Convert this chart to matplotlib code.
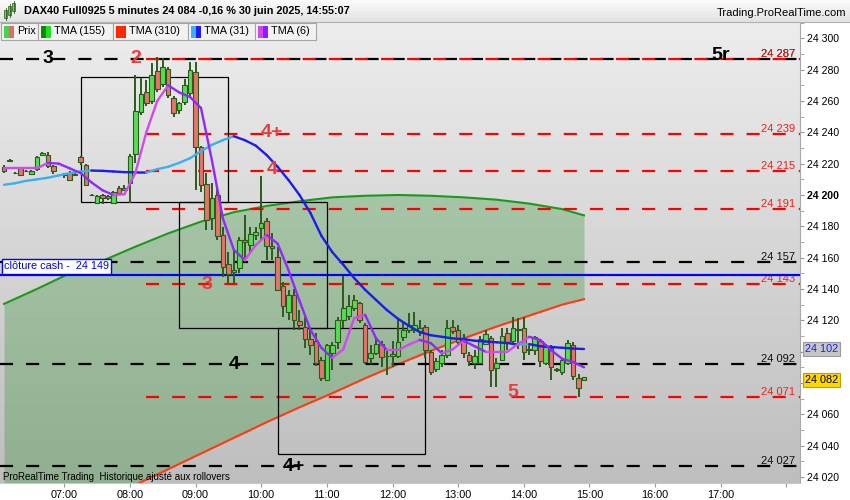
import numpy as np
import matplotlib.pyplot as plt
import matplotlib.transforms as mtransforms
from matplotlib.collections import LineCollection
from matplotlib.colors import LinearSegmentedColormap
from matplotlib.patches import Rectangle

plt.rcParams['font.family'] = ['Liberation Sans', 'DejaVu Sans']
plt.rcParams['lines.scale_dashes'] = False


def hm(s):
    h, m = s.split(":")
    return int(h) * 60 + int(m)


def fmt(v):
    return f"{v:,.0f}".replace(",", " ")


# --- 5 minute bars, 06:05 -> 14:55 ---
first_bar = "06:05"
bar_minutes = 5

opens = [24218, 24222, 24214, 24217, 24215, 24213.5, 24216.5, 24225.5, 24225.5, 24218.5,
         24212.5, 24212.5, 24214, 24213, 24224, 24219, 24200, 24195, 24200, 24199.5,
         24195, 24204.5, 24204.5, 24207.5, 24226, 24253, 24265.5, 24260, 24279, 24271,
         24280.5, 24262, 24254, 24259.5, 24265, 24278.5, 24230.5, 24207, 24185.5, 24200,
         24174.5, 24156, 24151, 24153.5, 24171.5, 24168, 24174.5, 24179, 24183.5, 24167.5,
         24160.5, 24142, 24125.5, 24136, 24119.5, 24116, 24108, 24107, 24095, 24082,
         24099, 24106, 24120, 24123, 24128, 24131, 24117, 24096, 24099, 24105,
         24097.5, 24097.5, 24097, 24109.5, 24114, 24114, 24113, 24116, 24100, 24089,
         24093, 24098, 24116, 24114, 24109, 24098, 24092.5, 24093, 24105, 24108.5,
         24089.5, 24095, 24112, 24107, 24114.5, 24115, 24101, 24101, 24107, 24093,
         24102.5, 24089, 24087, 24093, 24104.5, 24083.5, 24082]
highs = [24219, 24223, 24214.5, 24218, 24216, 24216, 24225, 24227.5, 24227.5, 24219,
         24213, 24214, 24215.5, 24214, 24225, 24220, 24200.5, 24200, 24200.5, 24200,
         24202.5, 24205.5, 24206.5, 24226, 24276.5, 24274.5, 24273.5, 24284, 24288, 24287.5,
         24282, 24263, 24259.5, 24274, 24285, 24285, 24231, 24214, 24207.5, 24205,
         24179.5, 24163.5, 24165, 24173, 24187, 24179.5, 24179.5, 24212, 24185.5, 24175.5,
         24167, 24144.5, 24139.5, 24140, 24126.5, 24122, 24114, 24112, 24096.5, 24105,
         24106, 24122, 24148, 24136, 24136, 24132, 24118, 24104.5, 24108, 24107,
         24101, 24107, 24120, 24118, 24125, 24125.5, 24120, 24117, 24101, 24096,
         24101, 24120, 24120, 24117, 24111, 24100, 24101, 24110, 24114, 24110,
         24096, 24115, 24115, 24122, 24121.5, 24122, 24105.5, 24110, 24107.5, 24105,
         24104, 24089.5, 24096, 24107.5, 24106, 24086, 24084]
lows = [24214, 24221.5, 24213.5, 24212, 24214.5, 24213, 24215, 24225, 24217, 24213.5,
        24212, 24211, 24209, 24213, 24219, 24205.5, 24199.5, 24194, 24194, 24197,
        24194, 24201, 24202.5, 24195, 24220.5, 24251, 24257, 24258, 24266, 24269,
        24262, 24250, 24251.5, 24257.5, 24263, 24203, 24202, 24177.5, 24177.5, 24171.5,
        24147.5, 24144, 24144, 24150, 24157, 24162.5, 24171.5, 24171.5, 24158.5, 24158.5,
        24139, 24122, 24120, 24114, 24114, 24102.5, 24098, 24091, 24081, 24081,
        24088, 24102, 24115, 24120, 24126, 24118, 24092, 24092, 24098, 24090,
        24085, 24090, 24096, 24107, 24112, 24112, 24110, 24096, 24085, 24087,
        24090, 24096, 24111, 24104, 24096, 24091, 24089, 24093, 24104, 24077.5,
        24077.5, 24095, 24101, 24104, 24102, 24095, 24098, 24098, 24090, 24091.5,
        24082, 24087, 24085, 24091.5, 24082, 24071, 24082]
closes = [24215, 24222.5, 24214, 24213, 24215.5, 24215, 24224, 24227, 24218.5, 24215.5,
          24212.5, 24213, 24209.5, 24213.5, 24221, 24206.5, 24200, 24199.5, 24198, 24198,
          24202, 24201.5, 24203, 24225, 24253.5, 24264.5, 24258.5, 24276.5, 24267.5, 24281.5,
          24264, 24252.5, 24258.5, 24270, 24280, 24230.5, 24206.5, 24184, 24198, 24174,
          24154, 24149.5, 24152, 24171, 24170, 24175, 24176.5, 24182, 24167.5, 24166,
          24139.5, 24129, 24136, 24120, 24117, 24108, 24104, 24093, 24083, 24104,
          24104, 24120, 24128, 24129, 24133, 24120, 24093.5, 24099, 24105, 24096.5,
          24097, 24098.5, 24106, 24114, 24117, 24117, 24115, 24101, 24087, 24094,
          24098, 24115, 24113, 24106, 24099, 24094, 24097, 24108, 24111, 24088,
          24092.5, 24110, 24106, 24115, 24114, 24100, 24101.5, 24109.5, 24094, 24103,
          24090, 24088, 24094.5, 24105.5, 24084.5, 24077, 24084]

# --- moving averages, every 10 minutes from 06:05 ---
tma_step = 10
tma6 = [24217, 24217, 24217, 24217, 24220.5, 24220, 24217, 24214, 24208, 24203,
        24200, 24200.5, 24214, 24240, 24260, 24270, 24265.5, 24262.5, 24255.5, 24222,
        24185, 24165, 24158.5, 24168, 24174.5, 24169, 24152, 24132.5, 24114, 24102.5,
        24096, 24101.5, 24121.5, 24123.5, 24108.5, 24101, 24101, 24104.5, 24107.5, 24105.5,
        24099, 24101.5, 24107, 24103.5, 24100, 24100, 24100, 24105, 24109.5, 24107.5,
        24101, 24095.5, 24093.5, 24090]
tma31 = [24206.5, 24207.5, 24209, 24210, 24211, 24212.5, 24214, 24215, 24215.6, 24215.4,
         24215, 24214.6, 24214.4, 24214.3, 24216.5, 24218, 24220.5, 24223.5, 24228, 24232,
         24235, 24237.5, 24235, 24231.5, 24225.5, 24218, 24209.5, 24200, 24188.5, 24174,
         24163.5, 24155.5, 24147, 24139.5, 24133, 24126.5, 24121, 24116.5, 24112.5, 24110.5,
         24109.5, 24108.5, 24108, 24107, 24106.5, 24106, 24105.5, 24104.5, 24104.8, 24103.5,
         24103, 24102.5, 24102, 24101.7]

slow_times = ["06:05", "06:35", "07:05", "07:35", "08:05", "08:35", "09:05", "09:35", "10:05",
              "10:35", "11:05", "11:35", "12:05", "12:35", "13:05", "13:35", "14:05", "14:35", "14:55"]
tma155 = [24130.5, 24140, 24150, 24158, 24167, 24175.5, 24183, 24189, 24193,
          24196, 24198.5, 24199.5, 24200, 24199.5, 24198.5, 24197, 24194.5, 24191, 24187]
tma310 = [np.nan, np.nan, np.nan, 24004.5, 24015, 24025, 24035, 24045, 24055,
          24064.5, 24073.5, 24083, 24092, 24100.5, 24108.5, 24116, 24123, 24130, 24133.5]

# --- drawn levels ---
level_prices = [24287, 24287, 24239, 24215, 24191, 24157, 24143, 24092, 24071, 24027]
level_colors = ["black", "red", "red", "red", "red", "black", "red", "black", "red", "black"]
level_starts = [None, "08:15", "08:15", "08:15", "08:15", None, "08:15", None, "08:15", None]
cash_close = 24149
price_tag = 24082

box_t0 = ["07:15", "08:45", "10:15"]
box_t1 = ["09:30", "11:00", "12:30"]
box_low = [24195.5, 24115, 24035]
box_high = [24275.5, 24195.5, 24115]

wave_text = ["3", "2", "5r", "4+", "4", "3", "4", "5", "4+"]
wave_time = ["06:45", "08:05", "17:00", "10:10", "10:10", "09:10", "09:35", "13:50", "10:30"]
wave_price = [24287, 24287, 24289, 24240, 24216, 24143, 24092, 24074, 24027]
wave_color = ["black", "red", "black", "red", "red", "red", "black", "red", "black"]

legend_names = ["Prix", "TMA (155)", "TMA (310)", "TMA (31)", "TMA (6)"]
legend_swatch = [("#4fcf4f", "#e06a64"), ("#0a8a0a", "#1ee01e"), ("#ff2a00", "#ff2a00"),
                 ("#3ab0f0", "#1c1cff"), ("#cf45ef", "#8a22ff")]

xmin, xmax = 361.3, 1092.4
ymin, ymax = 24016.2, 24310.4

fig = plt.figure(figsize=(8.5, 5), dpi=100)
ax = fig.add_axes([0, 17 / 500, 800 / 850, 461 / 500])

bg = LinearSegmentedColormap.from_list("bg", ["#bebebe", "#ededed"])
ax.imshow(np.linspace(0, 1, 256).reshape(-1, 1), extent=[xmin, xmax, ymin, ymax],
          origin="lower", aspect="auto", cmap=bg, zorder=0)

# filled zone between the two long averages
st = np.array([hm(s) for s in slow_times])
g = np.array(tma155)
r = np.array(tma310)
ax.fill_between(st, np.where(np.isnan(r), ymin - 20, r), g, color="#008000", alpha=0.24, lw=0, zorder=1)
ax.plot(st, g, color="#1a9a1a", lw=1.5, zorder=2)
ax.plot(st, r, color="#ff3a10", lw=1.5, zorder=2)

# levels
lbl_tr = mtransforms.blended_transform_factory(ax.transAxes, ax.transData)
for p, c, s in zip(level_prices, level_colors, level_starts):
    x0 = xmin if s is None else hm(s)
    ax.plot([x0, xmax], [p, p], color="#ff0000" if c == "red" else "black", lw=1.6,
            linestyle=(0, (9.4, 9.4)), zorder=2)
    ax.text(795 / 800, p, fmt(p), transform=lbl_tr, ha="right", va="bottom", fontsize=8,
            color="#ff1a1a" if c == "red" else "#111111", zorder=3)

ax.axhline(cash_close, color="#0000ff", lw=1.6, zorder=3)
ax.annotate("clôture cash -  " + fmt(cash_close), xy=(0.003, cash_close), xycoords=lbl_tr,
            xytext=(1, 2.5), textcoords="offset points", ha="left", va="bottom",
            fontsize=7.8, color="#0000ee", zorder=8,
            bbox=dict(boxstyle="square,pad=0.2", fc="white", ec="#0000ff", lw=1))

for a, b, lo, hi in zip(box_t0, box_t1, box_low, box_high):
    ax.add_patch(Rectangle((hm(a), lo), hm(b) - hm(a), hi - lo, fill=False, ec="black", lw=0.9, zorder=3))

# candles
t = hm(first_bar) + bar_minutes * np.arange(len(opens))
o = np.array(opens)
c = np.array(closes)
ax.vlines(t, lows, highs, color="#2e5a1c", lw=1.4, zorder=4)
ax.bar(t, np.abs(c - o), bottom=np.minimum(o, c), width=4.2,
       color=np.where(c >= o, "#55dd55", "#e8736b"), edgecolor="#2e5a1c", linewidth=0.8, zorder=5)


def slope_line(vals, up, down):
    tt = hm(first_bar) + tma_step * np.arange(len(vals))
    pts = np.column_stack([tt, vals])
    segs = np.stack([pts[:-1], pts[1:]], axis=1)
    cols = [up if b >= a else down for a, b in zip(vals[:-1], vals[1:])]
    ax.add_collection(LineCollection(segs, colors=cols, linewidths=1.7, capstyle="round", zorder=6))


slope_line(tma31, "#3ab0f0", "#1c1cf0")
slope_line(tma6, "#d448f0", "#9426ff")

for s, tm, p, col in zip(wave_text, wave_time, wave_price, wave_color):
    ax.text(hm(tm), p, s, ha="center", va="center", fontsize=14, fontweight="bold",
            color="#ec3b3b" if col == "red" else "black", zorder=7)

# axes: ticks first, limits afterwards (set_ticks widens the view)
yt = np.arange(24020, 24301, 20)
tags = [tma31[-1], price_tag]
ax.yaxis.tick_right()
ax.set_yticks(yt, labels=["" if min(abs(v - tg) for tg in tags) < 8 else fmt(v) for v in yt])
ax.set_yticks(np.arange(24020, 24311, 10), minor=True)
for lbl in ax.get_yticklabels():
    if lbl.get_text() == "24 200":
        lbl.set_fontweight("bold")
        lbl.set_fontsize(8.8)
ax.tick_params(axis="y", which="both", direction="out", length=3, color="#999999", labelsize=7.6, pad=2)
hours = [f"{h:02d}:00" for h in range(7, 19)]
ax.set_xticks([hm(h) for h in hours], labels=hours[:-1] + [""])
ax.tick_params(axis="x", direction="out", length=3, color="#999999", labelsize=7.8, pad=2)
ax.set_xlim(xmin, xmax)
ax.set_ylim(ymin, ymax)
for side in ["left", "top"]:
    ax.spines[side].set_visible(False)
ax.spines["right"].set_color("#a8a8a8")
ax.spines["bottom"].set_color("#c8c8c8")

ax.text(1.006, tma31[-1], fmt(tma31[-1]), transform=lbl_tr, ha="left", va="center", fontsize=7.8,
        color="#1c1cff", clip_on=False, bbox=dict(boxstyle="square,pad=0.15", fc="#c6c6c6", ec="#9a9a9a", lw=0.8))
ax.text(1.006, price_tag, fmt(price_tag), transform=lbl_tr, ha="left", va="center", fontsize=7.8,
        color="black", clip_on=False, bbox=dict(boxstyle="square,pad=0.15", fc="#ffd700", ec="#c0a000", lw=0.8))

# header, legend strip and footer drawn in pixel space
ov = fig.add_axes([0, 0, 1, 1], zorder=10)
ov.patch.set_alpha(0)
ov.axis("off")
hdr = LinearSegmentedColormap.from_list("hdr", ["#fbfbfb", "#e2e2e2"])
ov.imshow(np.linspace(0, 1, 64).reshape(-1, 1), extent=[0, 850, 22, 0], origin="upper", aspect="auto", cmap=hdr)
ov.plot([0, 850], [22, 22], color="#b0b0b0", lw=0.8)
for x0, y0, y1 in [(6, 10, 18), (10, 6, 15), (14, 3, 11)]:
    ov.plot([x0, x0], [y0 - 2, y1 + 2], color="#2e5a1c", lw=0.6)
    ov.add_patch(Rectangle((x0 - 1.5, y0), 3, y1 - y0, fc="#55dd55", ec="#2e5a1c", lw=0.5))
ov.text(24, 11.5, "DAX40 Full0925 5 minutes 24 084 -0,16 % 30 juin 2025, 14:55:07",
        fontsize=7.8, fontweight="bold", va="center", ha="left")
ov.text(846, 12.5, "Trading.ProRealTime.com", fontsize=8, va="center", ha="right")

bx = [1, 38, 113, 188, 255, 316]
for i, name in enumerate(legend_names):
    ov.add_patch(Rectangle((bx[i], 22.5), bx[i + 1] - bx[i], 17.5, fc="#f2f2f2", ec="#a4a4a4", lw=0.8))
    ov.add_patch(Rectangle((bx[i] + 3, 25.5), 5, 12, fc=legend_swatch[i][0], lw=0))
    ov.add_patch(Rectangle((bx[i] + 8, 25.5), 5, 12, fc=legend_swatch[i][1], lw=0))
    ov.text(bx[i] + 16, 31.5, name, fontsize=7.8, va="center", ha="left")
ov.text(3, 476.5, "ProRealTime Trading  Historique ajusté aux rollovers", fontsize=7, va="center", ha="left")
ov.set_xlim(0, 850)
ov.set_ylim(500, 0)

fig.savefig("out.png", dpi=100, facecolor="white")
